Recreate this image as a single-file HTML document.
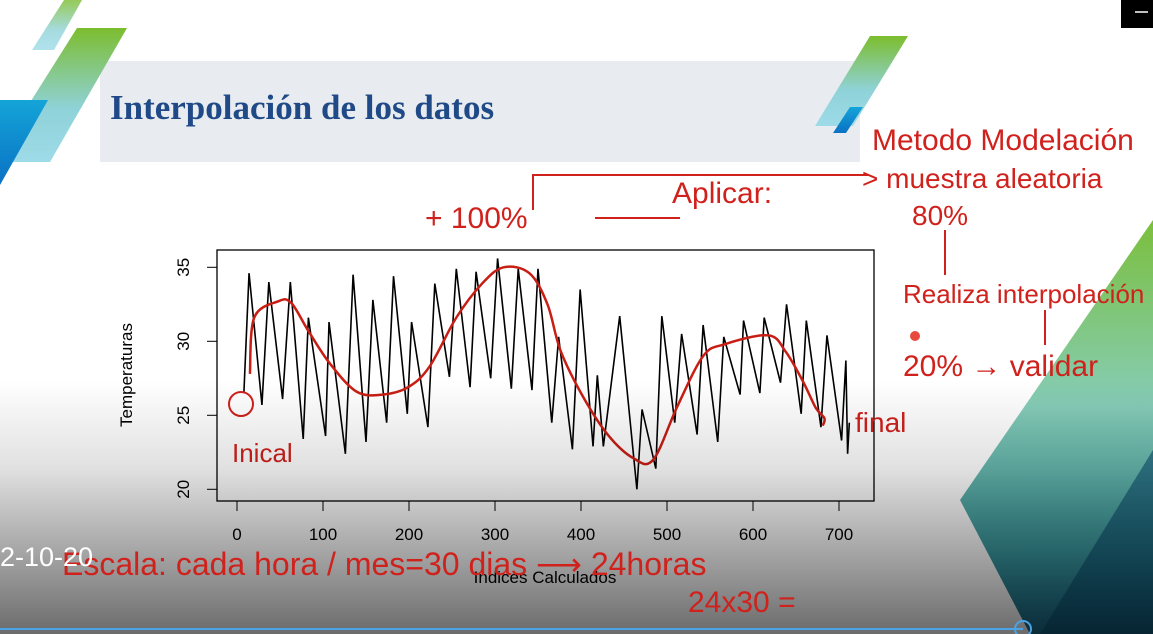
<!DOCTYPE html>
<html><head><meta charset="utf-8">
<style>
html,body{margin:0;padding:0;width:1153px;height:634px;overflow:hidden;background:#fff;font-family:"Liberation Sans",sans-serif}
svg{display:block}
.hw{font-family:"Liberation Sans",sans-serif;fill:#d0211c}
</style></head>
<body>
<svg id="s" width="1153" height="634" viewBox="0 0 1153 634">
<defs>
<linearGradient id="gS" x1="0" y1="0" x2="0" y2="1"><stop offset="0" stop-color="#7cbd2e"/><stop offset="0.6" stop-color="#8fd2d8"/><stop offset="1" stop-color="#9ddbe8"/></linearGradient>
<linearGradient id="gB" x1="0" y1="0" x2="0" y2="1"><stop offset="0" stop-color="#14a4d8"/><stop offset="1" stop-color="#0a72c4"/></linearGradient>
<linearGradient id="gR" x1="0" y1="0" x2="0" y2="1"><stop offset="0" stop-color="#7bbf3c"/><stop offset="0.45" stop-color="#86cdb8"/><stop offset="0.8" stop-color="#3a9aa0"/><stop offset="1" stop-color="#1a6a88"/></linearGradient>
<linearGradient id="gD" x1="0" y1="0" x2="0" y2="1"><stop offset="0" stop-color="rgba(0,0,0,0)"/><stop offset="0.35" stop-color="rgba(0,0,0,0.12)"/><stop offset="1" stop-color="rgba(0,0,0,0.58)"/></linearGradient>
</defs>
<polygon points="64,0 82,0 54,50 32,50" fill="url(#gS)" opacity="0.8"/>
<rect x="100" y="61" width="760" height="101" fill="#e8ecf0"/>
<polygon points="77,28 127,28 50,162 0,162 0,150" fill="url(#gS)"/>
<polygon points="0,100 48,100 0,185" fill="url(#gB)"/>
<text x="110" y="119" font-family="'Liberation Serif',serif" font-weight="bold" font-size="35" fill="#1f4a87">Interpolación de los datos</text>
<polygon points="870,36 908,36 853,126 815,126" fill="url(#gS)"/>
<polygon points="850,107 863,107 846,133 833,133" fill="url(#gB)"/>
<polygon points="960,500 1153,220 1153,634 1030,634" fill="url(#gR)"/>
<polygon points="1040,634 1153,450 1153,634" fill="#0b4d6e" opacity="0.6"/>
<g id="chart">
<rect x="217" y="250" width="657" height="251" fill="none" stroke="#000" stroke-width="1.3"/>
<text transform="translate(132,375) rotate(-90)" text-anchor="middle" font-size="17" fill="#000">Temperaturas</text>
<text x="545" y="583" text-anchor="middle" font-size="17" fill="#000">Indices Calculados</text>
</g>
<g>
<text class="hw" x="425" y="228" font-size="30">+ 100%</text>
<line x1="595" y1="218" x2="680" y2="218" stroke="#d0211c" stroke-width="2"/>
<text class="hw" x="672" y="203" font-size="30">Aplicar:</text>
<path d="M533,210 L533,175 L868,175" fill="none" stroke="#d0211c" stroke-width="2"/>
<text class="hw" x="872" y="150" font-size="30">Metodo Modelación</text>
<text class="hw" x="862" y="188" font-size="28">&gt; muestra aleatoria</text>
<text class="hw" x="912" y="225" font-size="28">80%</text>
<line x1="945" y1="230" x2="945" y2="275" stroke="#d0211c" stroke-width="2"/>
<text class="hw" x="903" y="303" font-size="26">Realiza interpolación</text>
<text class="hw" x="903" y="376" font-size="30">20% → validar</text>
<line x1="1045" y1="345" x2="1045" y2="310" stroke="#d0211c" stroke-width="2"/>
<circle cx="915" cy="336" r="5" fill="#e8493f"/>
<text class="hw" x="855" y="432" font-size="28">final</text>
<circle cx="241" cy="404" r="12" fill="none" stroke="#d0211c" stroke-width="2"/>
<text class="hw" x="232" y="462" font-size="26">Inical</text>
</g>
<rect x="0" y="380" width="1153" height="254" fill="url(#gD)"/>
<g>
<text class="hw" x="62" y="575" font-size="32">Escala: cada hora / mes=30 dias ⟶ 24horas</text>
<text class="hw" x="688" y="612" font-size="30">24x30 =</text>
</g>
<text x="0" y="566" font-size="27" fill="#fff">2-10-20</text>
<rect x="1121" y="0" width="32" height="28" fill="#000"/>
<line x1="1135" y1="12" x2="1148" y2="12" stroke="#fff" stroke-width="1.5"/>
<line x1="0" y1="629" x2="1023" y2="629" stroke="#4aa3e6" stroke-width="2"/>
<circle cx="1023" cy="629" r="8" fill="none" stroke="#4aa3e6" stroke-width="2"/>
</svg>
<script>
const xTicks=[0,100,200,300,400,500,600,700];
const yTicks=[20,25,30,35];
const idx=[8,14,29,37,53,62,77,83,103,107,126,135,150,158,174,182,198,203,222,230,247,255,271,278,295,303,319,327,343,350,366,374,390,399,414,419,426,445,465,471,487,494,509,517,535,542,559,566,585,589,608,613,632,639,656,662,679,686,703,708,710,712];
const temps=[26.5,34.6,25.7,34.0,26.1,34.0,23.4,31.6,23.6,31.3,22.4,34.5,23.2,32.8,24.5,34.4,25.1,31.3,24.2,33.9,27.6,34.9,26.9,34.7,27.5,35.6,26.8,34.9,26.7,34.9,24.5,30.3,22.7,33.5,22.9,27.7,22.9,31.7,20.0,25.4,21.4,31.7,24.5,30.5,23.7,31.1,23.2,30.3,26.4,31.4,26.5,31.6,27.2,32.5,25.1,31.4,24.2,30.4,23.3,28.7,22.4,24.5];
const trendIdx=[15,20,48,63,83,108,139,169,199,224,255,285,310,340,361,376,401,431,461,484,512,542,567,618,638,658,673,683,681];
const trendTemp=[27.8,31.6,32.7,32.6,30.7,28.5,26.6,26.4,26.9,28.3,31.6,33.9,35.0,34.6,32.5,29.4,26.4,23.7,22.1,22.0,25.6,29.0,29.8,30.4,29.3,27.3,25.5,24.8,24.3];
const NS='http://www.w3.org/2000/svg';
const X=v=>237+(v/700)*602;
const Y=v=>489.3-(v-20)/15*222;
const g=document.getElementById('chart');
function mk(t,a){const e=document.createElementNS(NS,t);for(const k in a)e.setAttribute(k,a[k]);g.appendChild(e);return e;}
xTicks.forEach(t=>{
 const l=mk('line',{x1:X(t),x2:X(t),y1:501,y2:511,stroke:'#000'});
 
 
 const tx=mk('text',{x:X(t),y:540,'text-anchor':'middle','font-size':17,fill:'#000'});
 tx.textContent=t;
 
 
});
yTicks.forEach(t=>{
 const l=mk('line',{x1:207,x2:217,y1:Y(t),y2:Y(t),stroke:'#000'});
 
 
 const tx=mk('text',{transform:`translate(189,${Y(t)}) rotate(-90)`,'text-anchor':'middle','font-size':17,fill:'#000'});
 tx.textContent=t;
 
 
});
const p=mk('polyline',{points:idx.map((v,i)=>X(v)+','+Y(temps[i])).join(' '),fill:'none',stroke:'#000','stroke-width':1.6});


const pts=trendIdx.map((v,i)=>[X(v),Y(trendTemp[i])]);
let d='M'+pts[0][0]+','+pts[0][1];
for(let i=0;i<pts.length-1;i++){
 const p0=pts[i-1]||pts[i],p1=pts[i],p2=pts[i+1],p3=pts[i+2]||p2;
 d+=` C${p1[0]+(p2[0]-p0[0])/6},${p1[1]+(p2[1]-p0[1])/6} ${p2[0]-(p3[0]-p1[0])/6},${p2[1]-(p3[1]-p1[1])/6} ${p2[0]},${p2[1]}`;
}
const r=mk('path',{d:d,fill:'none',stroke:'#c81e14','stroke-width':2.5,'stroke-linejoin':'round'});


</script>
</body></html>
